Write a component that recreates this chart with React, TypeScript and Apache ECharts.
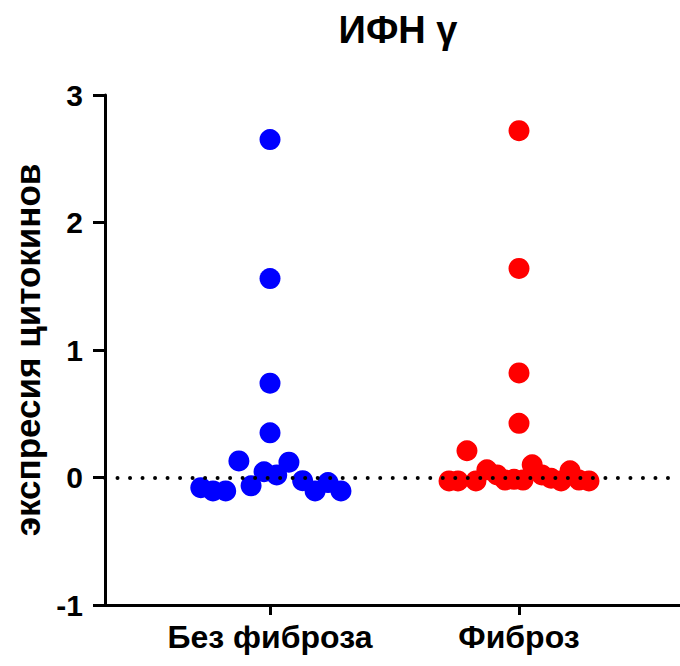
import React, { useEffect, useRef } from "react";
import * as echarts from "echarts";

const categories = ["Без фиброза", "Фиброз"];
const yTicks = [-1, 0, 1, 2, 3];

// Без фиброза
const noFibrosisValues = [2.65, 1.56, 0.74, 0.35, 0.13, 0.12, 0.045, 0.02, -0.08, -0.105, -0.105, -0.065, -0.025, -0.105, -0.04, -0.105];
const noFibrosisJitter = [0, 0, 0, 0, -0.125, 0.076, -0.024, 0.027, -0.278, -0.229, -0.178, -0.076, 0.131, 0.181, 0.233, 0.285];

// Фиброз
const fibrosisValues = [2.72, 1.64, 0.82, 0.425, 0.21, -0.027, -0.027, -0.027, 0.06, 0.02, -0.02, -0.014, -0.02, 0.1, 0.02, -0.006, -0.027, 0.053, -0.02, -0.027];
const fibrosisJitter = [0, 0, 0, 0, -0.209, -0.281, -0.245, -0.173, -0.129, -0.088, -0.056, -0.02, 0.016, 0.053, 0.092, 0.129, 0.169, 0.205, 0.241, 0.281];

const FONT = "'Liberation Sans', Arial, sans-serif";

export default function App() {
  const ref = useRef<HTMLDivElement>(null);
  useEffect(() => {
    document.body.style.margin = "0";
    const chart = echarts.init(ref.current!, null, { renderer: "svg" });
    const toPoints = (vals: number[], jit: number[], idx: number) =>
      vals.map((v, i) => [idx + 1 + jit[i], v]);
    chart.setOption({
      animation: false,
      backgroundColor: "#ffffff",
      graphic: [
        {
          type: "text",
          x: 398,
          y: 30,
          style: {
            text: "ИФН γ",
            font: `bold 38px ${FONT}`,
            fill: "#000",
            textAlign: "center",
            textVerticalAlign: "middle",
          },
        },
      ],
      grid: { left: 105, right: 0, top: 95, bottom: 61, outerBoundsMode: "none" },
      xAxis: {
        type: "value",
        min: 0.3373,
        max: 2.6466,
        splitLine: { show: false },
        axisLine: { show: true, onZero: false, lineStyle: { color: "#000", width: 3 } },
        axisTick: { show: true, customValues: [1, 2], length: 10, lineStyle: { color: "#000", width: 3 } },
        axisLabel: {
          show: true,
          customValues: [1, 2],
          formatter: (v: number) => categories[Math.round(v) - 1],
          fontSize: 32,
          fontWeight: "bold",
          fontFamily: FONT,
          color: "#000",
          margin: 16,
        },
      },
      yAxis: {
        type: "value",
        min: -1,
        max: 3,
        interval: 1,
        splitLine: { show: false },
        axisLine: { show: true, onZero: false, lineStyle: { color: "#000", width: 3 } },
        axisTick: { show: true, length: 12, lineStyle: { color: "#000", width: 3 } },
        axisLabel: {
          formatter: (v: number) => (yTicks.includes(v) ? String(v) : ""),
          fontSize: 30,
          fontWeight: "bold",
          fontFamily: FONT,
          color: "#000",
          margin: 22,
        },
        name: "экспресия цитокинов",
        nameLocation: "middle",
        nameRotate: 90,
        nameGap: 60,
        nameTextStyle: { fontSize: 35, fontWeight: "bold", fontFamily: FONT, color: "#000" },
      },
      series: [
        {
          type: "line",
          data: [],
          z: 1,
          markLine: {
            silent: true,
            symbol: "none",
            label: { show: false },
            lineStyle: { color: "#000", width: 4, type: [0.01, 12.5], cap: "round" },
            data: [{ yAxis: 0 }],
          },
        },
        {
          name: categories[0],
          type: "scatter",
          z: 3,
          symbolSize: 21,
          itemStyle: { color: "#0000FF", opacity: 1 },
          data: toPoints(noFibrosisValues, noFibrosisJitter, 0),
        },
        {
          name: categories[1],
          type: "scatter",
          z: 3,
          symbolSize: 21,
          itemStyle: { color: "#FF0000", opacity: 1 },
          data: toPoints(fibrosisValues, fibrosisJitter, 1),
        },
      ],
    });
    return () => chart.dispose();
  }, []);
  return <div ref={ref} style={{ width: 680, height: 666, position: "fixed", left: 0, top: 0 }} />;
}
